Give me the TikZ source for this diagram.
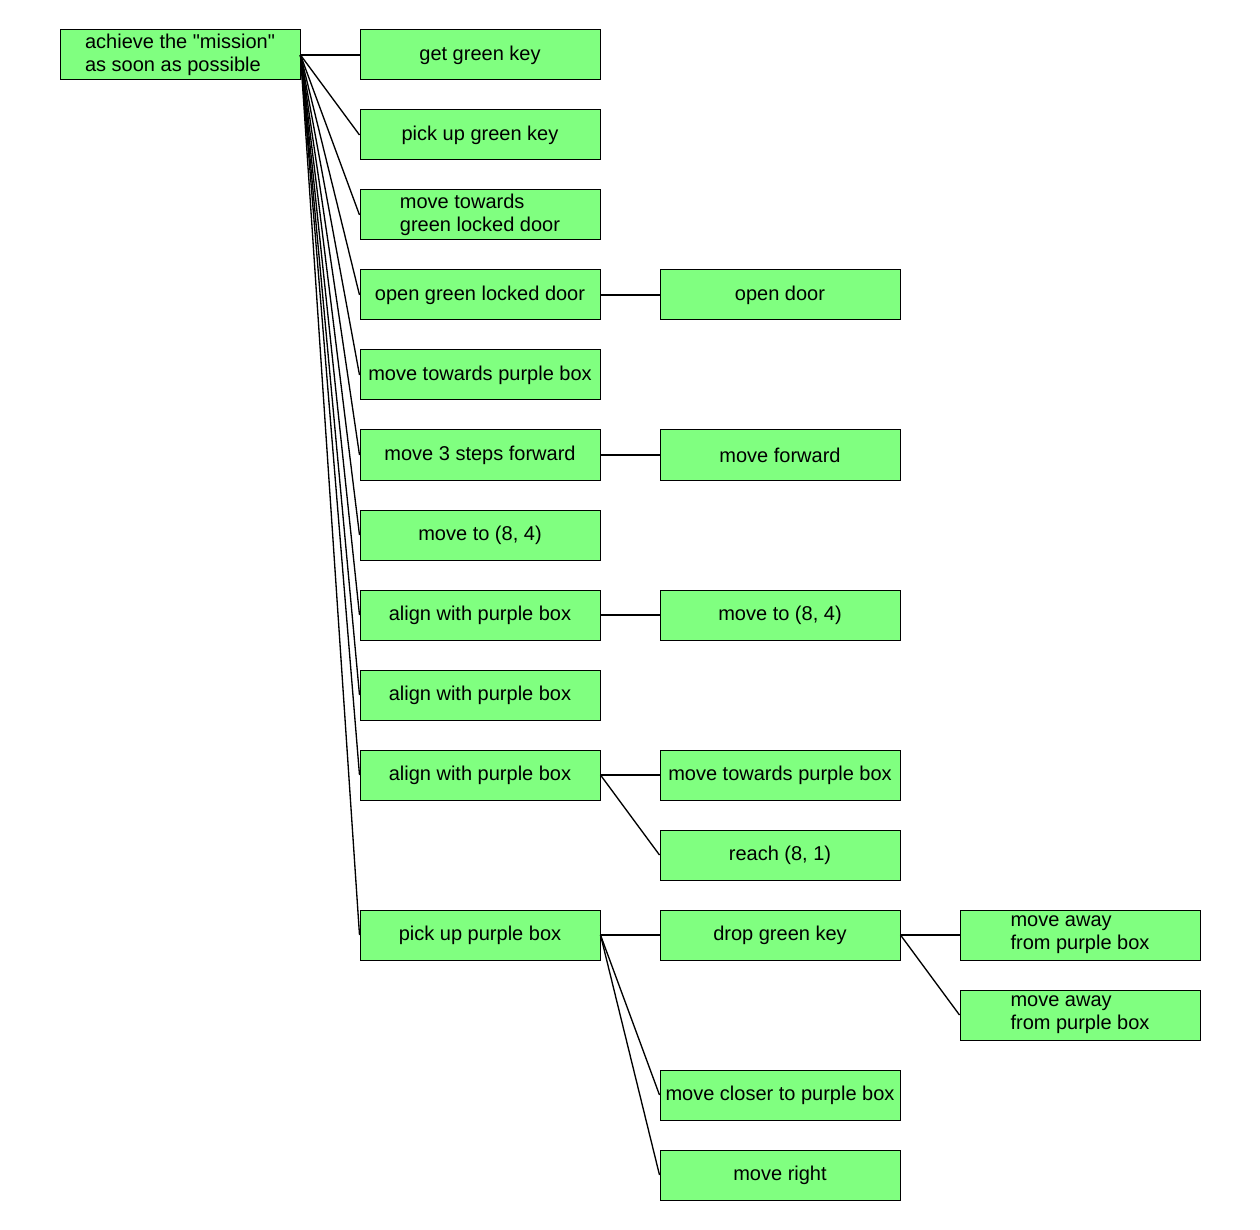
\documentclass[tikz,border=0pt]{standalone}
\usepackage{fontspec}
\setmainfont{Liberation Sans}[Ligatures=TeXOff]
\definecolor{boxgreen}{RGB}{128,255,128}
\begin{document}
\begin{tikzpicture}[x=0.75pt,y=-0.75pt,
  goal/.style={draw=black,line width=0.75pt,fill=boxgreen,minimum width=180pt,minimum height=37.5pt,inner sep=0pt,align=left,font=\fontsize{15}{17.25}\selectfont},
  link/.style={draw=black,line width=1pt}]
\useasboundingbox (0,0) rectangle (1260,1230);
\node[goal] (root) at (180,55) {achieve the "mission"\\as soon as possible};
\node[goal] (c1) at (480,55) {get green key};
\node[goal] (c2) at (480,135) {pick up green key};
\node[goal] (c3) at (480,215) {move towards\\green locked door};
\node[goal] (c4) at (480,295) {open green locked door};
\node[goal] (c5) at (480,375) {move towards purple box};
\node[goal] (c6) at (480,455) {move 3 steps forward};
\node[goal] (c7) at (480,535) {move to (8, 4)};
\node[goal] (c8) at (480,615) {align with purple box};
\node[goal] (c9) at (480,695) {align with purple box};
\node[goal] (c10) at (480,775) {align with purple box};
\node[goal] (c11) at (480,935) {pick up purple box};
\node[goal] (d4) at (780,295) {open door};
\node[goal] (d6) at (780,455) {move forward};
\node[goal] (d8) at (780,615) {move to (8, 4)};
\node[goal] (d10a) at (780,775) {move towards purple box};
\node[goal] (d10b) at (780,855) {reach (8, 1)};
\node[goal] (d11a) at (780,935) {drop green key};
\node[goal] (d11b) at (780,1095) {move closer to purple box};
\node[goal] (d11c) at (780,1175) {move right};
\node[goal] (e1) at (1080,935) {move away\\from purple box};
\node[goal] (e2) at (1080,1015) {move away\\from purple box};
\foreach \c in {c1,c2,c3,c4,c5,c6,c7,c8,c9,c10,c11}
  \draw[link] (root.east) -- (\c.west);
\draw[link] (c4.east) -- (d4.west);
\draw[link] (c6.east) -- (d6.west);
\draw[link] (c8.east) -- (d8.west);
\draw[link] (c10.east) -- (d10a.west);
\draw[link] (c10.east) -- (d10b.west);
\draw[link] (c11.east) -- (d11a.west);
\draw[link] (c11.east) -- (d11b.west);
\draw[link] (c11.east) -- (d11c.west);
\draw[link] (d11a.east) -- (e1.west);
\draw[link] (d11a.east) -- (e2.west);
\end{tikzpicture}
\end{document}
